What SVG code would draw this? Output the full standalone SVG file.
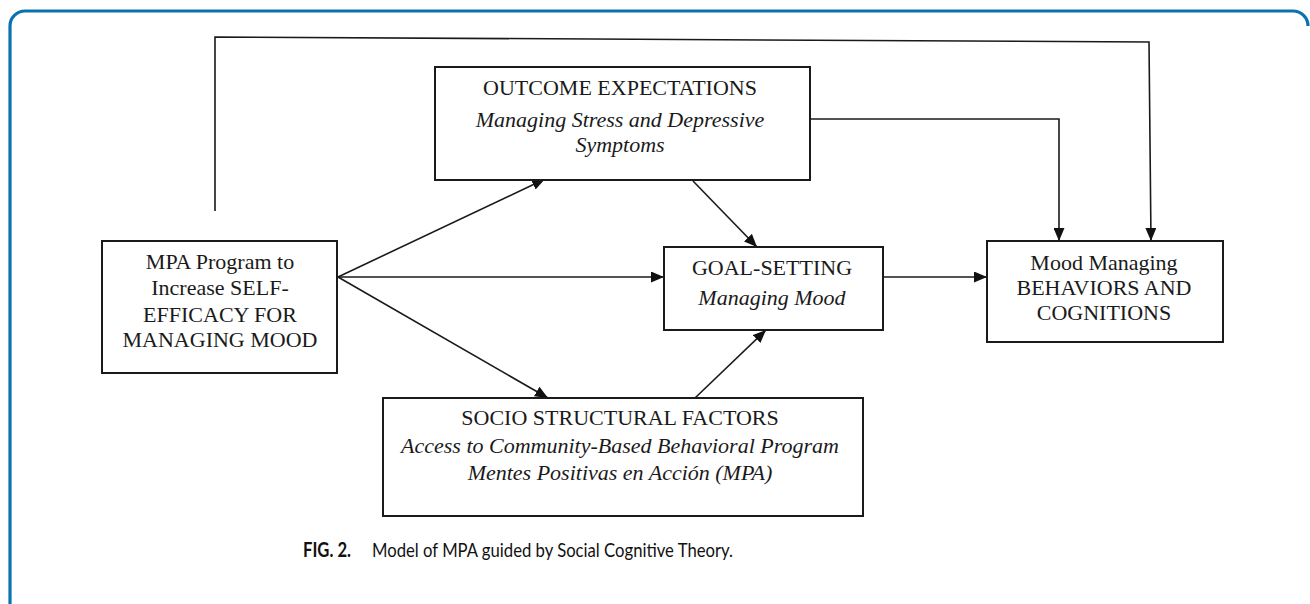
<svg xmlns="http://www.w3.org/2000/svg" width="1310" height="604" viewBox="0 0 1310 604">
<defs>
<style>
.box{fill:#fff;stroke:#1a1a1a;stroke-width:2}
.t{font-family:"Liberation Serif","Times New Roman",serif;font-size:22px;fill:#1a1a1a;text-anchor:middle}
.i{font-style:italic}
.c{fill:none;stroke:#1a1a1a;stroke-width:1.6}
.cap{font-family:"Lato","Liberation Sans",sans-serif;font-size:20px;fill:#111}
</style>
<marker id="ah" markerUnits="userSpaceOnUse" markerWidth="13" markerHeight="11" refX="13" refY="5.5" orient="auto">
<path d="M0,0 L13,5.5 L0,11 z" fill="#111"/>
</marker>
</defs>
<rect width="1310" height="604" fill="#fff"/>
<path d="M10,604 L10,26 A15,15 0 0 1 25,11 L1293,11 A15,15 0 0 1 1308,26" fill="none" stroke="#0a72b0" stroke-width="3.2"/>

<g id="connectors">
<line class="c" x1="338" y1="277" x2="545" y2="179" marker-end="url(#ah)"/>
<line class="c" x1="338" y1="277" x2="664" y2="277" marker-end="url(#ah)"/>
<line class="c" x1="338" y1="277" x2="548" y2="398" marker-end="url(#ah)"/>
<line class="c" x1="693" y1="181" x2="757" y2="247" marker-end="url(#ah)"/>
<line class="c" x1="695" y1="398" x2="766" y2="330" marker-end="url(#ah)"/>
<line class="c" x1="883" y1="277" x2="987" y2="277" marker-end="url(#ah)"/>
<polyline class="c" points="810,119 1059,119 1059,241" marker-end="url(#ah)"/>
<polyline class="c" points="215,211 215,37 1149,42 1151,241" marker-end="url(#ah)"/>
</g>

<g id="outcome">
<rect class="box" x="435" y="67" width="375" height="113"/>
<text class="t" x="620" y="95">OUTCOME EXPECTATIONS</text>
<text class="t i" x="620" y="127">Managing Stress and Depressive</text>
<text class="t i" x="620" y="152">Symptoms</text>
</g>

<g id="mpa">
<rect class="box" x="102" y="241" width="235" height="132"/>
<text class="t" x="220" y="269">MPA Program to</text>
<text class="t" x="220" y="295">Increase SELF-</text>
<text class="t" x="220" y="322">EFFICACY FOR</text>
<text class="t" x="220" y="347">MANAGING MOOD</text>
</g>

<g id="goal">
<rect class="box" x="664" y="247" width="219" height="83"/>
<text class="t" x="772" y="275">GOAL-SETTING</text>
<text class="t i" x="772" y="305">Managing Mood</text>
</g>

<g id="mood">
<rect class="box" x="987" y="241" width="236" height="101"/>
<text class="t" x="1104" y="270">Mood Managing</text>
<text class="t" x="1104" y="295">BEHAVIORS AND</text>
<text class="t" x="1104" y="320">COGNITIONS</text>
</g>

<g id="socio">
<rect class="box" x="383" y="398" width="480" height="118"/>
<text class="t" x="620" y="425">SOCIO STRUCTURAL FACTORS</text>
<text class="t i" x="620" y="453">Access to Community-Based Behavioral Program</text>
<text class="t i" x="620" y="480">Mentes Positivas en Acción (MPA)</text>
</g>

<g id="caption">
<text class="cap" x="303" y="557" font-weight="bold" textLength="48" lengthAdjust="spacingAndGlyphs">FIG. 2.</text>
<text class="cap" x="372" y="557" textLength="361" lengthAdjust="spacingAndGlyphs">Model of MPA guided by Social Cognitive Theory.</text>
</g>
</svg>
